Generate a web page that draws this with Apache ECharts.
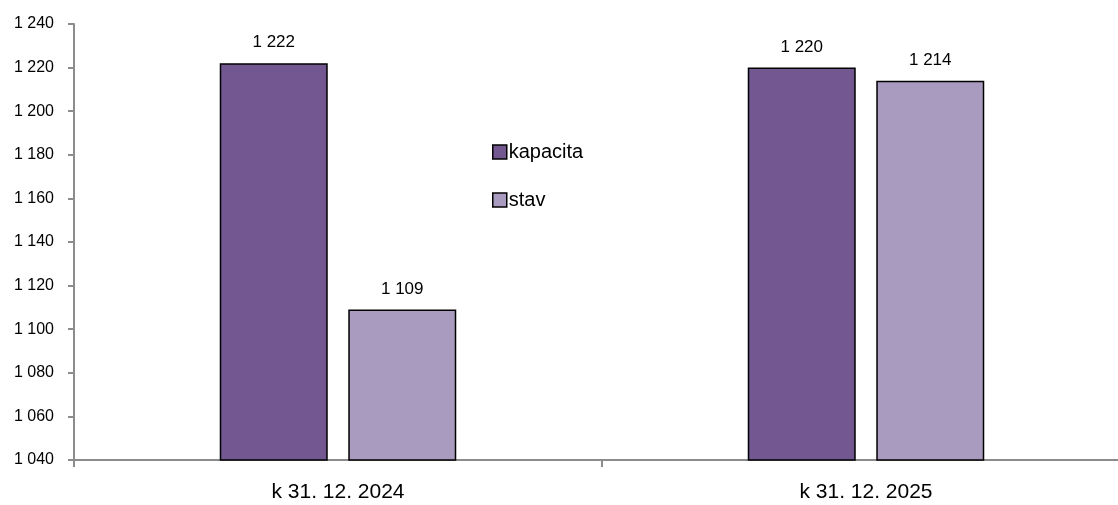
<!DOCTYPE html>
<html><head><meta charset="utf-8">
<script src="https://cdn.jsdelivr.net/npm/echarts@6/dist/echarts.min.js"></script>
<style>html,body{margin:0;padding:0;background:#fff}#c{width:1118px;height:505px}</style>
</head><body><div id="c"></div>
<script>
const categories = ['k 31. 12. 2024', 'k 31. 12. 2025'];
const kapacita = [1222, 1220];
const stav = [1109, 1214];
const yMin = 1040, yMax = 1240, yStep = 20;
const fmt = v => String(v).replace(/\B(?=(\d{3})+(?!\d))/g, ' ');
const chart = echarts.init(document.getElementById('c'));
const font = '"Liberation Sans", Arial, sans-serif';
chart.setOption({
  animation: false,
  textStyle: { fontFamily: font },
  grid: { left: 74, width: 1056, top: 24, bottom: 45, containLabel: false, outerBoundsMode: 'none' },
  legend: {
    orient: 'vertical', left: 492, top: 142, itemGap: 28, padding: 0,
    itemWidth: 14, itemHeight: 14, icon: 'rect',
    itemStyle: { borderColor: '#000', borderWidth: 1.5 },
    textStyle: { fontSize: 20, lineHeight: 20, color: '#000', fontFamily: font, padding: [0,0,0,-3] },
    data: ['kapacita', 'stav']
  },
  xAxis: {
    type: 'category', data: categories,
    axisLine: { lineStyle: { color: '#8c8c8c', width: 2 } },
    axisTick: { show: true, alignWithLabel: false, length: 7, lineStyle: { color: '#8c8c8c', width: 2 } },
    axisLabel: { color: '#000', fontSize: 21, margin: 22, fontFamily: font }
  },
  yAxis: {
    type: 'value', min: yMin, max: yMax, interval: yStep,
    splitLine: { show: false },
    axisLine: { show: true, lineStyle: { color: '#8c8c8c', width: 2 } },
    axisTick: { show: true, length: 6, lineStyle: { color: '#8c8c8c', width: 2 } },
    axisLabel: { color: '#000', fontSize: 16, margin: 20, fontFamily: font, formatter: fmt }
  },
  series: [
    { name: 'kapacita', type: 'bar', data: kapacita, barWidth: 108, barGap: '19%',
      itemStyle: { color: '#725791', borderColor: '#000', borderWidth: 1.5 },
      label: { show: true, position: 'top', distance: 12, color: '#000', fontSize: 17, fontFamily: font, formatter: p => fmt(p.value) } },
    { name: 'stav', type: 'bar', data: stav, barWidth: 108, barGap: '19%',
      itemStyle: { color: '#a99abf', borderColor: '#000', borderWidth: 1.5 },
      label: { show: true, position: 'top', distance: 12, color: '#000', fontSize: 17, fontFamily: font, formatter: p => fmt(p.value) } }
  ]
});
</script></body></html>
